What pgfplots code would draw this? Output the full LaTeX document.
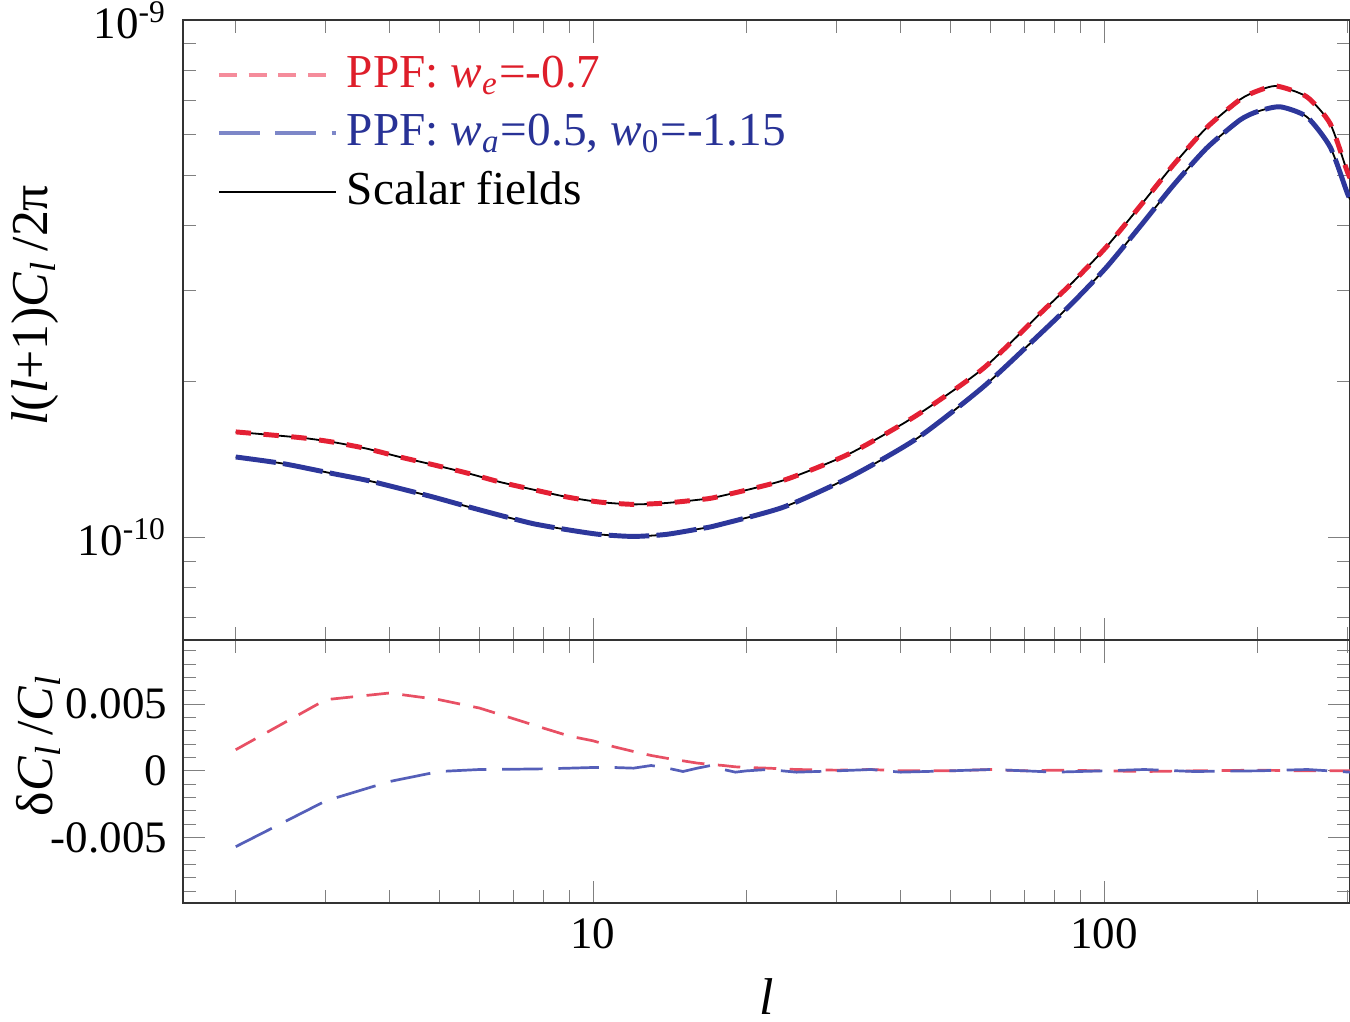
\documentclass[border=0pt]{standalone}
\usepackage{fontspec}
\setmainfont{Liberation Serif}
\usepackage{pgfplots}
\pgfplotsset{compat=1.18}
\pgfplotsset{legend image code/.code={\draw[#1] (0pt,0pt) -- (26pt,0pt);}}
\definecolor{cred}{RGB}{228,32,52}
\definecolor{cblue}{RGB}{45,55,155}
\definecolor{tred}{RGB}{222,30,42}
\definecolor{tblue}{RGB}{40,50,150}
\definecolor{lred}{RGB}{245,140,155}
\definecolor{lblue}{RGB}{125,135,200}
\definecolor{bred}{RGB}{232,80,100}
\definecolor{bblue}{RGB}{85,95,185}
\newlength{\pxu}\setlength{\pxu}{0.2222pt}
\pgfplotstableread{
l v
2 1.599e-10
2.67 1.559e-10
3.10 1.528e-10
3.61 1.484e-10
4.19 1.430e-10
4.86 1.382e-10
5.66 1.332e-10
6.58 1.279e-10
7.63 1.237e-10
8.88 1.197e-10
10.3 1.170e-10
12.0 1.158e-10
13.9 1.165e-10
16.2 1.183e-10
17.5 1.197e-10
23.6 1.289e-10
31.8 1.452e-10
43.0 1.722e-10
58.0 2.120e-10
75.0 2.708e-10
87.1 3.122e-10
101.2 3.649e-10
117.6 4.368e-10
136.7 5.250e-10
158.9 6.200e-10
184.5 7.020e-10
200.0 7.300e-10
217.8 7.454e-10
249.3 7.107e-10
276.9 6.311e-10
298.5 5.127e-10
303 4.95e-10
}\redtab
\pgfplotstableread{
l v
2 1.430e-10
2.47 1.389e-10
3.10 1.328e-10
3.61 1.289e-10
4.19 1.243e-10
4.86 1.197e-10
5.66 1.148e-10
6.58 1.103e-10
7.63 1.063e-10
8.88 1.035e-10
10.3 1.013e-10
12.0 1.004e-10
13.9 1.013e-10
16.2 1.039e-10
17.5 1.055e-10
23.6 1.144e-10
31.8 1.307e-10
43.0 1.552e-10
58.0 1.953e-10
75.0 2.473e-10
87.1 2.851e-10
101.2 3.332e-10
117.6 3.989e-10
136.7 4.795e-10
158.9 5.660e-10
184.5 6.410e-10
200.0 6.660e-10
221.1 6.797e-10
249.3 6.501e-10
276.9 5.687e-10
298.5 4.66e-10
303 4.5e-10
}\bluetab
\begin{document}
\begin{tikzpicture}
\begin{axis}[name=upper, xmode=log, ymode=log,
  scale only axis, width=1167\pxu, height=620\pxu, xmin=1.577, xmax=302.9,
  ymin=6.33e-11, ymax=1e-9,
  tick align=inside, major tick length=5pt, minor tick length=2.8pt,
  axis line style={draw=black!80, line width=0.5pt},
  xtick={10,100}, minor xtick={2,3,4,5,6,7,8,9,20,30,40,50,60,70,80,90,200,300},
  xtick pos=both, ytick pos=both,
  tick label style={font=\fontsize{10}{12}\selectfont},
  xticklabels={},
  ytick={1e-10,1e-9}, yticklabels={10\textsuperscript{-10},10\textsuperscript{-9}},
  minor ytick={7e-11,8e-11,9e-11,2e-10,3e-10,4e-10,5e-10,6e-10,7e-10,8e-10,9e-10},
  ylabel={\textit{l}(\textit{l}+1)\textit{C}\textsubscript{\textit{l}}\,/2π},
  ylabel style={at={(axis description cs:-0.127,0.54)}, anchor=center, font=\fontsize{11.5}{13}\selectfont},
  legend style={draw=none, fill=none, at={(axis description cs:0.017,0.973)}, anchor=north west,
    font=\fontsize{10.5}{12}\selectfont, row sep=0.4pt},
  legend cell align=left,
]
\addplot[black, line width=0.4pt, smooth, tension=0.4, forget plot] table[x=l,y=v] {\redtab};
\addplot[black, line width=0.4pt, smooth, tension=0.4, forget plot] table[x=l,y=v] {\bluetab};
\addplot[cred, line width=1.1pt, dash pattern=on 3.4pt off 2.8pt, smooth, tension=0.4, forget plot] table[x=l,y=v] {\redtab};
\addplot[cblue, line width=1.1pt, dash pattern=on 9pt off 1.6pt, smooth, tension=0.4, forget plot] table[x=l,y=v] {\bluetab};
\addlegendimage{lred, line width=0.8pt, dash pattern=on 4pt off 2.6pt}
\addlegendentry{\textcolor{tred}{PPF: \textit{w}\textsubscript{\textit{e}}=-0.7}}
\addlegendimage{lblue, line width=0.8pt, dash pattern=on 9pt off 3.5pt}
\addlegendentry{\textcolor{tblue}{PPF: \textit{w}\textsubscript{\textit{a}}=0.5, \textit{w}\textsubscript{0}=-1.15}}
\addlegendimage{black, line width=0.45pt}
\addlegendentry{Scalar fields}
\end{axis}
\begin{axis}[name=lower, at={(upper.south west)}, anchor=north west, xmode=log,
  scale only axis, width=1167\pxu, height=263\pxu, xmin=1.577, xmax=302.9,
  ymin=-0.0099, ymax=0.0098, scaled y ticks=false,
  tick align=inside, major tick length=5pt, minor tick length=2.8pt,
  axis line style={draw=black!80, line width=0.5pt},
  xtick={10,100}, minor xtick={2,3,4,5,6,7,8,9,20,30,40,50,60,70,80,90,200,300},
  xtick pos=both, ytick pos=both,
  tick label style={font=\fontsize{10}{12}\selectfont},
  xticklabels={10,100}, xticklabel pos=lower,
  ytick={-0.005,0,0.005}, yticklabels={-0.005,0,0.005},
  minor ytick={-0.009,-0.008,-0.007,-0.006,-0.004,-0.003,-0.002,-0.001,0.001,0.002,0.003,0.004,0.006,0.007,0.008,0.009},
  ylabel={δ\textit{C}\textsubscript{\textit{l}}\,/\textit{C}\textsubscript{\textit{l}}},
  ylabel style={at={(axis description cs:-0.124,0.6)}, anchor=center, font=\fontsize{11.5}{13}\selectfont},
  xlabel={\textit{l}},
  xlabel style={at={(axis description cs:0.5,-0.355)}, anchor=center, font=\fontsize{11.5}{13}\selectfont},
]
\addplot[bred, line width=0.6pt, dash pattern=on 5pt off 3pt] coordinates {
(2,0.00158) (3,0.00533) (4,0.00583) (5,0.00533) (6,0.0047) (7,0.0039) (8,0.0032) (9,0.0026) (10,0.00225) (11,0.0018) (12,0.00145) (13,0.00115) (14,0.00093) (15,0.00075) (16,0.00058) (17,0.00048) (18,0.0004) (19,0.0003) (20,0.00025) (22,0.0002) (25,0.0001) (30,0.00005) (35,0.0001) (40,0.0) (50,0.0) (60,0.0001) (70,0.0) (80,0.00005) (100,0.0) (120,-0.00005) (150,0.0) (200,0.00005) (250,0.0) (303,0.0)
};
\addplot[bblue, line width=0.6pt, dash pattern=on 9pt off 3.5pt] coordinates {
(2,-0.00568) (3,-0.00225) (4,-0.0008) (5,-0.00005) (6,0.0001) (7,0.00012) (8,0.00015) (9,0.0002) (10,0.00025) (11,0.00025) (12,0.0002) (13,0.0004) (14,0.0002) (15,-0.00005) (16,0.0002) (17,0.0004) (18,0.0001) (19,-0.0001) (20,0.0) (22,0.0001) (25,-0.0001) (30,0.0) (35,0.0001) (40,-0.0001) (50,0.0) (60,0.0001) (70,0.0) (80,-0.0001) (100,0.0) (120,0.0001) (150,-0.00005) (200,0.0) (250,0.0001) (303,-0.0001)
};
\end{axis}
\pgfresetboundingbox
\path ([xshift=-183\pxu,yshift=20\pxu]upper.north west) rectangle ([yshift=-118\pxu]lower.south east);
\end{tikzpicture}
\end{document}
